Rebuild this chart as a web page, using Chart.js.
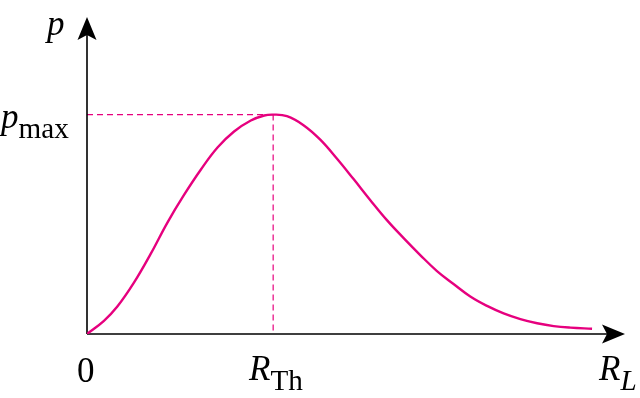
<!DOCTYPE html>
<html>
<head>
<meta charset="utf-8">
<script src="https://cdn.jsdelivr.net/npm/chart.js@4"></script>
<style>
  html, body { margin: 0; padding: 0; background: #fff; }
  #wrap { position: relative; width: 640px; height: 398px; }
  .lbl {
    position: absolute; white-space: nowrap; color: #000;
    font-family: "Liberation Serif", "Times New Roman", serif;
    font-size: 30px; line-height: 30px; height: 30px;
    transform-origin: 0 0; transform: scale(1.1667);
  }
  .lbl i { font-style: italic; }
  .lbl .sub { font-size: 25px; line-height: 0; }
</style>
</head>
<body>
<div id="wrap">
  <canvas id="power-chart"></canvas>
  <div class="lbl" id="lbl-p"></div>
  <div class="lbl" id="lbl-pmax"></div>
  <div class="lbl" id="lbl-zero"></div>
  <div class="lbl" id="lbl-rth"></div>
  <div class="lbl" id="lbl-rl"></div>
</div>
<script>
// Charge R_L (en unités de R_Th) et puissance p (en unités de p_max)
var rl = [0, 0.091, 0.163, 0.253, 0.342, 0.432, 0.522, 0.612, 0.701, 0.79, 0.88, 0.952, 1.0,
          1.074, 1.163, 1.253, 1.342, 1.432, 1.522, 1.611, 1.701, 1.79, 1.88, 1.969,
          2.059, 2.149, 2.238, 2.328, 2.418, 2.507, 2.597, 2.713];
var p = [0, 0.06, 0.125, 0.235, 0.365, 0.508, 0.635, 0.75, 0.85, 0.923, 0.973, 0.996, 1.0,
         0.993, 0.952, 0.886, 0.8, 0.706, 0.61, 0.519, 0.437, 0.36, 0.287, 0.228,
         0.171, 0.128, 0.094, 0.068, 0.049, 0.036, 0.029, 0.024];
// Point du maximum (R_Th, p_max)
var peakX = 1.0;
var peakY = 1.0;
// Étiquettes : [texte principal, indice]
var xTickLabels = [['0', ''], ['R', 'Th']];
var xAxisLabel = ['R', 'L'];
var yAxisLabel = ['p', ''];
var yPeakLabel = ['p', 'max'];

var couleur = '#e6007e';
var echelle = 1.1667; // les étiquettes sont agrandies par transform

function fleche(ctx, x, y, dx, dy) {
  // pointe de flèche "furtive" orientée selon (dx, dy)
  var L = 23, W = 9.5, N = 5;
  var px = -dy, py = dx;
  ctx.beginPath();
  ctx.moveTo(x, y);
  ctx.lineTo(x - dx * L + px * W, y - dy * L + py * W);
  ctx.lineTo(x - dx * (L - N), y - dy * (L - N));
  ctx.lineTo(x - dx * L - px * W, y - dy * L - py * W);
  ctx.closePath();
  ctx.fill();
}

// place une étiquette HTML : x = bord gauche, y = ligne de base
function etiquette(id, lbl, x, y, italMain, italSub, dSub) {
  var el = document.getElementById(id);
  el.innerHTML = '';
  var a = document.createElement(italMain ? 'i' : 'span');
  a.textContent = lbl[0];
  el.appendChild(a);
  if (lbl[1]) {
    var s = document.createElement('span');
    s.className = 'sub';
    s.style.verticalAlign = (-dSub / echelle) + 'px';
    if (italSub) s.style.fontStyle = 'italic';
    s.textContent = lbl[1];
    el.appendChild(s);
  }
  el.style.left = x + 'px';
  el.style.top = (y - 25.1 * echelle) + 'px';
}

var decor = {
  id: 'decor',
  beforeDatasetsDraw: function(chart) {
    var ctx = chart.ctx;
    var xs = chart.scales.x, ys = chart.scales.y;
    var x0 = xs.getPixelForValue(0), y0 = ys.getPixelForValue(0);
    var xp = xs.getPixelForValue(peakX), yp = ys.getPixelForValue(peakY);
    ctx.save();
    // lignes pointillées vers le maximum
    ctx.strokeStyle = couleur;
    ctx.lineWidth = 1.2;
    ctx.setLineDash([6, 4]);
    ctx.beginPath();
    ctx.moveTo(x0, yp); ctx.lineTo(xp, yp);
    ctx.moveTo(xp, yp); ctx.lineTo(xp, y0);
    ctx.stroke();
    ctx.setLineDash([]);
    // axes
    var xEnd = xs.getPixelForValue(xs.max), yEnd = ys.getPixelForValue(ys.max);
    ctx.strokeStyle = '#000';
    ctx.fillStyle = '#000';
    ctx.lineWidth = 1.6;
    ctx.beginPath();
    ctx.moveTo(x0, y0); ctx.lineTo(xEnd - 10, y0);
    ctx.moveTo(x0, y0); ctx.lineTo(x0, yEnd + 10);
    ctx.stroke();
    fleche(ctx, xEnd, y0, 1, 0);
    fleche(ctx, x0, yEnd, 0, -1);
    ctx.restore();
    // textes
    etiquette('lbl-p', yAxisLabel, x0 - 40, yEnd + 18, true, false, 0);
    etiquette('lbl-pmax', yPeakLabel, 1, yp + 14, true, false, 10);
    etiquette('lbl-zero', xTickLabels[0], x0 - 10, y0 + 48, false, false, 0);
    etiquette('lbl-rth', xTickLabels[1], xp - 24, y0 + 46, true, false, 10);
    etiquette('lbl-rl', xAxisLabel, xEnd - 26, y0 + 46, true, true, 10);
  }
};

var ctx = document.getElementById('power-chart').getContext('2d');
var chart = new Chart(ctx, {
  type: 'line',
  data: {
    datasets: [{
      data: rl.map(function(v, i) { return { x: v, y: p[i] }; }),
      borderColor: couleur,
      borderWidth: 2.4,
      pointRadius: 0,
      tension: 0.4,
      fill: false
    }]
  },
  options: {
    responsive: true,
    maintainAspectRatio: false,
    animation: false,
    layout: { padding: { left: 87, right: 15, top: 17, bottom: 64 } },
    scales: {
      x: { type: 'linear', display: false, min: 0, max: 2.89 },
      y: { type: 'linear', display: false, min: 0, max: 1.445 }
    },
    plugins: {
      legend: { display: false },
      tooltip: { enabled: false },
      title: { display: false }
    }
  },
  plugins: [decor]
});
</script>
</body>
</html>
